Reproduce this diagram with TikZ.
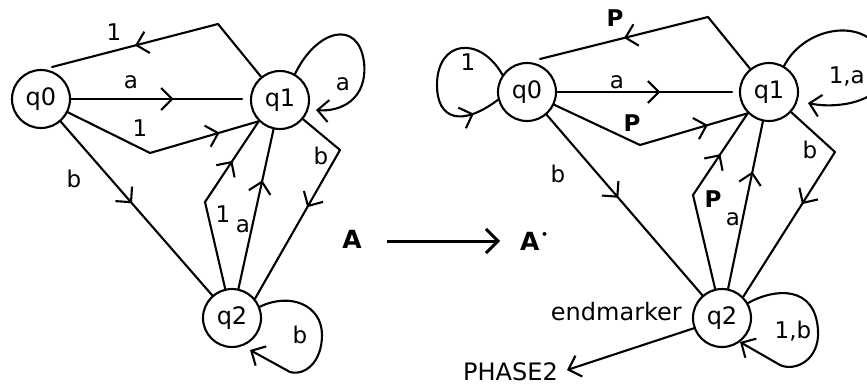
\documentclass[tikz,border=0pt]{standalone}
\usepackage{fontspec}
\setmainfont{DejaVu Sans}
\usetikzlibrary{arrows.meta,decorations.markings}
\tikzset{chev/.tip={Straight Barb[length=11pt,width=22pt]}}
\begin{document}
\begin{tikzpicture}[x=1pt,y=-1pt,
  every node/.style={font=\fontsize{23}{27}\selectfont,inner sep=0pt},
  st/.style={circle,draw,line width=2.1pt,minimum size=58pt,inner sep=0pt,font=\fontsize{24}{28}\selectfont},
  ln/.style={line width=2.1pt,line cap=round,line join=round},
  marrow/.style={postaction={decorate},decoration={markings,mark=at position #1 with {\arrow{chev}}}},
  bf/.style={font=\fontsize{23}{27}\selectfont\bfseries},
  bigbf/.style={font=\fontsize{25}{28}\selectfont\bfseries},
  tx/.style={font=\fontsize{24}{28}\selectfont}]
\useasboundingbox (0,0) rectangle (867,386);
\begin{scope}
\clip (0,0) rectangle (867,386);
% states
\node[st] (L0) at (41,99) {q0};
\node[st] (L1) at (280,100) {q1};
\node[st] (L2) at (232,318) {q2};
\node[st] (R0) at (527,92) {q0};
\node[st] (R1) at (769,92) {q1};
\node[st] (R2) at (722,318) {q2};
% left coordinates
\coordinate (La) at (218,24);
\coordinate (Lb) at (52,67);
\coordinate (Lae) at (242,99);
\coordinate (Lc) at (150,153);
\coordinate (Ld) at (205,202);
\coordinate (Le) at (340,150);
\coordinate (Lf) at (290,372);
\coordinate (Lg) at (250,350);
\coordinate (Lh) at (316,110);
% left edges
\draw[ln] (L1) -- (La);
\draw[ln,marrow=0.5] (La) -- (Lb);
\draw[ln,marrow=0.6] (L0) -- (Lae);
\draw[ln] (L0) -- (Lc);
\draw[ln,marrow=0.64] (Lc) -- (L1.225);
\draw[ln,marrow=0.47] (L0) -- (L2);
\draw[ln] (L2) -- (Ld);
\draw[ln,marrow=0.51] (Ld) -- (L1.225);
\draw[ln,marrow=0.68] (L2) -- (L1);
\draw[ln] (L1) -- (Le);
\draw[ln,marrow=0.385] (Le) -- (L2.40);
\draw[ln,-{chev}] (L2.22) .. controls (290,292) and (322,305) .. (322,335) .. controls (322,362) and (305,376) .. (Lf) -- (Lg);
\draw[ln,-{chev}] (L1.60) .. controls (316,30) and (358,18) .. (364,62) .. controls (368,100) and (340,112) .. (Lh);
% left labels
\node (l1) at (114,32) {1};
\node (l2) at (131,82) {a};
\node (l3) at (140,128) {1};
\node (l4) at (74,179) {b};
\node (l5) at (343,84) {a};
\node (l6) at (223,214) {1};
\node (l7) at (243,226) {a};
\node (l8) at (321,156) {b};
\node (l9) at (300,335) {b};
% centre
\node[bigbf] (A) at (352,239) {A};
\node[bigbf,anchor=west] (Ap) at (520,241) {A\kern1.5pt\raisebox{0.45em}{\fontsize{11}{11}\selectfont•}};
\coordinate (Aa) at (387,241);
\coordinate (Ab) at (500,241);
\draw[line width=3pt,-{Straight Barb[length=12pt,width=24pt]}] (Aa) -- (Ab);
% right coordinates
\coordinate (Ra) at (708,17);
\coordinate (Rb) at (540,59);
\coordinate (Rae) at (732,92);
\coordinate (Rc) at (640,145);
\coordinate (Rd) at (693,195);
\coordinate (Re) at (835,152);
\coordinate (Rf) at (780,365);
\coordinate (Rg) at (740,342);
\coordinate (Rh) at (808,103);
\coordinate (Rp) at (567,370);
% right edges
\draw[ln] (R1) -- (Ra);
\draw[ln,marrow=0.5] (Ra) -- (Rb);
\draw[ln,marrow=0.59] (R0) -- (Rae);
\draw[ln] (R0) -- (Rc);
\draw[ln,marrow=0.63] (Rc) -- (R1.225);
\draw[ln,marrow=0.46] (R0) -- (R2);
\draw[ln] (R2) -- (Rd);
\draw[ln,marrow=0.5] (Rd) -- (R1.225);
\draw[ln,marrow=0.7] (R2) -- (R1);
\draw[ln] (R1) -- (Re);
\draw[ln,marrow=0.36] (Re) -- (R2.45);
\draw[ln,-{chev}] (R2.30) .. controls (775,288) and (815,285) .. (818,330) .. controls (820,360) and (795,372) .. (Rf) -- (Rg);
\draw[ln,-{chev}] (R1.60) .. controls (805,25) and (870,15) .. (885,60) .. controls (895,100) and (840,110) .. (Rh);
\draw[ln,marrow=0.85] (R0.145) .. controls (480,35) and (437,40) .. (437,85) .. controls (437,120) and (462,127) .. (R0.195);
\draw[ln,-{chev}] (R2.200) -- (Rp);
% right labels
\node (r1) at (468,62) {1};
\node[bf] (r2) at (615,18) {P};
\node (r3) at (617,82) {a};
\node[bf] (r4) at (632,123) {P};
\node (r5) at (558,174) {b};
\node[anchor=east] (r6) at (865,76) {1,a};
\node[bf] (r7) at (713,199) {P};
\node (r8) at (733,219) {a};
\node (r9) at (810,150) {b};
\node (r10) at (793,331) {1,b};
\node[tx,anchor=base east] (em) at (682,320) {endmarker};
\node[tx,anchor=base west] (ph) at (463,380) {PHASE2};
\end{scope}
\end{tikzpicture}
\end{document}
